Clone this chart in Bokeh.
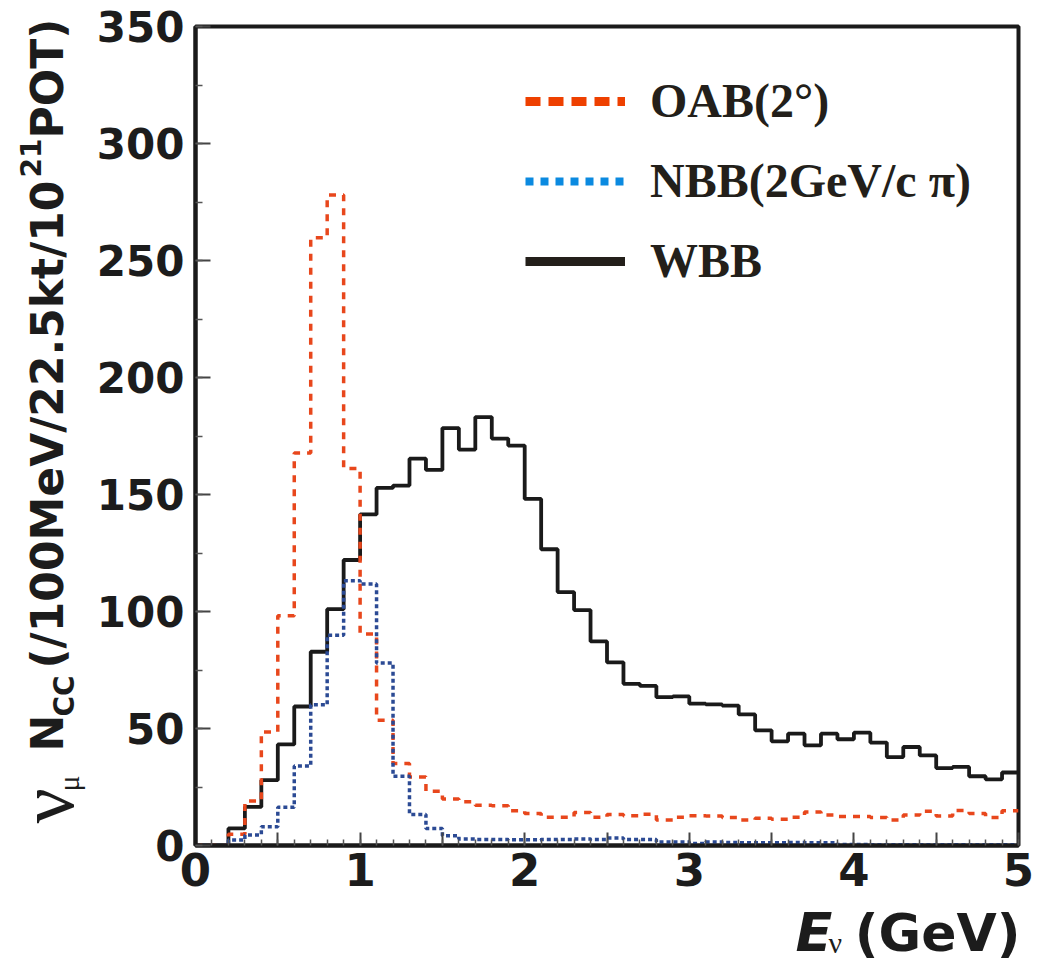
import math
from bokeh.plotting import figure
from bokeh.models import Range1d, FixedTicker, Legend, LegendItem
from bokeh.core.properties import value
from bokeh.embed import file_html
from bokeh.resources import INLINE

# ---------------- data ----------------
bin_start = 0.0
bin_width = 0.1

wbb = [0, 0, 7.3, 16.5, 27.9, 43.2, 59.4, 82.8, 101.0, 122.0,
       141.5, 152.8, 153.8, 165.3, 160.5, 178.4, 169.2, 183.1, 173.9, 170.9,
       148.1, 126.6, 108.3, 100.6, 87.2, 78.3, 69.1, 68.2, 63.4, 63.7,
       60.6, 60.3, 59.8, 56.0, 49.2, 44.5, 47.8, 42.8, 47.8, 45.4,
       48.2, 44.0, 37.8, 42.1, 38.5, 33.1, 33.6, 29.6, 28.3, 31.2]
oab = [0, 0, 4.8, 19.0, 48.5, 98.2, 167.7, 259.7, 278.0, 161.1,
       90.4, 53.5, 35.0, 29.3, 23.2, 19.9, 18.7, 17.2, 17.0, 14.8,
       13.7, 12.1, 12.1, 14.1, 12.1, 13.3, 12.7, 13.4, 10.9, 12.1,
       12.7, 12.6, 12.0, 10.9, 11.6, 11.2, 12.1, 14.3, 13.0, 12.4,
       12.4, 12.0, 10.9, 13.0, 14.6, 12.6, 15.0, 13.7, 12.0, 14.8]
nbb = [0, 0, 2.3, 4.5, 8.0, 16.3, 34.0, 60.1, 89.9, 113.1,
       111.7, 78.0, 29.6, 13.3, 7.3, 4.2, 2.8, 2.6, 2.6, 2.5,
       2.5, 2.6, 2.6, 2.8, 2.6, 3.2, 2.6, 2.6, 1.5, 1.5,
       0.9, 1.5, 1.3, 1.2, 1.2, 1.2, 1.3, 1.2, 1.2, 0.4,
       0.4, 0.3, 0.3, 0.3, 0.3, 0.3, 0.3, 0.3, 0.3, 0.3]

series_labels = ["OAB(2°)", "NBB(2GeV/c π)", "WBB"]

x_major_ticks = [0, 0.5, 1, 1.5, 2, 2.5, 3, 3.5, 4, 4.5, 5]
x_minor_ticks = [round(i * 0.1, 1) for i in range(51)]
x_tick_labels = {0.5: "", 1.5: "", 2.5: "", 3.5: "", 4.5: ""}
y_major_ticks = [0, 50, 100, 150, 200, 250, 300, 350]
y_minor_ticks = [0, 25, 50, 75, 100, 125, 150, 175, 200, 225, 250, 275, 300, 325, 350]

X0, X1, Y0, Y1 = 0.0, 5.0, 0.0, 350.0

# ---------------- figure ----------------
W, H = 1041, 963
B_LEFT, B_RIGHT, B_TOP, B_BOTTOM = 195, 23, 26, 118
p = figure(width=W, height=H, output_backend="svg", toolbar_location=None,
           x_range=Range1d(X0, X1), y_range=Range1d(Y0, Y1),
           min_border_left=B_LEFT, min_border_right=B_RIGHT,
           min_border_top=B_TOP, min_border_bottom=B_BOTTOM)
p.background_fill_color = "white"
p.border_fill_color = "white"
p.outline_line_color = "#1a1a1a"
p.outline_line_width = 4
p.xgrid.visible = False
p.ygrid.visible = False

ink = "#1c1c1c"
for ax in (p.xaxis[0], p.yaxis[0]):
    ax.axis_line_color = "#1a1a1a"
    ax.axis_line_width = 4
    ax.major_tick_line_color = "#444444"
    ax.minor_tick_line_color = "#555555"
    ax.major_tick_line_width = 2
    ax.minor_tick_line_width = 1.5
    ax.major_tick_out = 0
    ax.minor_tick_out = 0
    ax.major_label_text_font = "DejaVu Sans"
    ax.major_label_text_font_style = "bold"
    ax.major_label_text_color = ink

p.xaxis[0].ticker = FixedTicker(ticks=x_major_ticks, minor_ticks=x_minor_ticks)
p.xaxis[0].major_label_overrides = x_tick_labels
p.xaxis[0].major_tick_in = 13
p.xaxis[0].minor_tick_in = 6
p.xaxis[0].major_label_text_font_size = "45px"
p.xaxis[0].major_label_standoff = 7

p.yaxis[0].ticker = FixedTicker(ticks=y_major_ticks, minor_ticks=y_minor_ticks)
p.yaxis[0].major_tick_in = 15
p.yaxis[0].minor_tick_in = 7
p.yaxis[0].major_label_text_font_size = "42px"
p.yaxis[0].major_label_standoff = 11

# ---------------- histograms ----------------
n = len(wbb)
edges = [bin_start + bin_width * i for i in range(n + 1)]

r_wbb = p.step(x=edges, y=wbb + [wbb[-1]], mode="after",
               line_color="#1a1a1a", line_width=3.8)
r_oab = p.step(x=edges, y=oab + [oab[-1]], mode="after",
               line_color="#e8471c", line_width=3.5, line_dash="7 7")
r_nbb = p.step(x=edges, y=nbb + [nbb[-1]], mode="after",
               line_color="#2b4a94", line_width=3.5, line_dash="4 3")

# ---------------- axis titles (text pieces, drawn unclipped at overlay level) ----------------
fl, fr = B_LEFT, W - B_RIGHT
ft, fb = B_TOP, H - B_BOTTOM

def to_data(px, py):
    return (X0 + (px - fl) / (fr - fl) * (X1 - X0),
            Y0 + (fb - py) / (fb - ft) * (Y1 - Y0))

def txt(s, px, py, size, font="DejaVu Sans", style="bold", angle=0.0, align="left"):
    dx, dy = to_data(px, py)
    p.text(x=[dx], y=[dy], text=[s], angle=angle, text_align=align,
           text_baseline="middle", text_font=value(font), text_font_style=style,
           text_font_size=size, text_color=ink, level="overlay")

up = math.pi / 2
txt("ν", 46, 823, "78px", font="Liberation Serif", style="normal", angle=up)
txt("μ", 68, 791, "30px", font="Liberation Serif", style="normal", angle=up)
txt("N", 47, 751, "44px", angle=up)
txt("CC", 64, 716, "28px", angle=up)
txt("(/100MeV/22.5kt/10", 47, 668, "44px", angle=up)
txt("21", 30, 177, "28px", angle=up)
txt("POT)", 47, 138, "44px", angle=up)

txt("E", 795, 932, "54px", style="bold italic")
txt("ν", 828, 942, "30px", font="Liberation Serif", style="normal")
txt("(GeV)", 1020, 932, "52px", align="right")

# ---------------- legend ----------------
nan = float("nan")
l_oab = p.line(x=[nan], y=[nan], line_color="#ee4000", line_width=9, line_dash="15 8")
l_nbb = p.line(x=[nan], y=[nan], line_color="#0b8ae0", line_width=8, line_dash="8 7")
l_wbb = p.line(x=[nan], y=[nan], line_color="#231f1a", line_width=9)

legend = Legend(items=[LegendItem(label=series_labels[0], renderers=[l_oab]),
                       LegendItem(label=series_labels[1], renderers=[l_nbb]),
                       LegendItem(label=series_labels[2], renderers=[l_wbb])],
                location=(330, 557), padding=0, margin=0, spacing=25,
                glyph_width=100, glyph_height=52, label_height=52, label_standoff=25,
                label_text_font="Liberation Serif", label_text_font_style="bold",
                label_text_font_size="48px", label_text_color="#231f1a",
                background_fill_alpha=0, border_line_color=None)
p.add_layout(legend)

open("out.html", "w").write(file_html(p, INLINE))
